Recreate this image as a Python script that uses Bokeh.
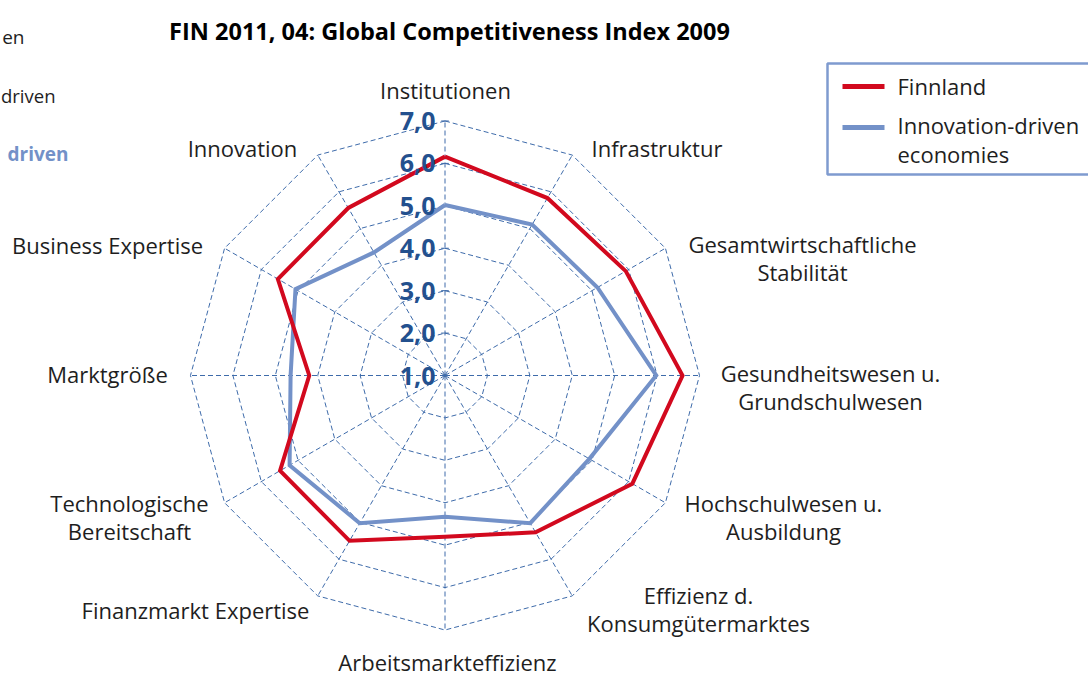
import numpy as np
from bokeh.plotting import figure
from bokeh.models import Range1d
from bokeh.embed import file_html
from bokeh.resources import INLINE
from bokeh.core.properties import value

# ---------------- data ----------------
title_text = "FIN 2011, 04: Global Competitiveness Index 2009"
categories = [
    "Institutionen",
    "Infrastruktur",
    "Gesamtwirtschaftliche\nStabilität",
    "Gesundheitswesen u.\nGrundschulwesen",
    "Hochschulwesen u.\nAusbildung",
    "Effizienz d.\nKonsumgütermarktes",
    "Arbeitsmarkteffizienz",
    "Finanzmarkt Expertise",
    "Technologische\nBereitschaft",
    "Marktgröße",
    "Business Expertise",
    "Innovation",
]
finnland = [6.16, 5.83, 5.92, 6.60, 6.10, 5.27, 4.80, 5.50, 5.49, 4.20, 5.55, 5.56]
innovation_driven = [5.02, 5.11, 5.15, 5.98, 4.93, 5.02, 4.33, 5.02, 5.23, 4.64, 5.07, 4.35]
series_names = ["Finnland", "Innovation-driven\neconomies"]
tick_values = [1.0, 2.0, 3.0, 4.0, 5.0, 6.0, 7.0]
tick_labels = ["1,0", "2,0", "3,0", "4,0", "5,0", "6,0", "7,0"]
cut_fragments = ["en", "driven", "driven"]

# ---------------- layout ----------------
W, H = 1088, 675
K = 42.42            # pixels per value unit
CX, CY = 444.5, 375  # page coords of the radar centre
VMIN = 1.0

def dx(xp):
    return (xp - CX) / K

def dy(yp):
    return (CY - yp) / K

FONT = value("Open Sans")
RED = "#D2091E"
BLUE = "#7391C8"
GRID = "#3E6BAA"
TICK = "#23508E"
TXT = "#1E1E1E"
FS = "22px"

p = figure(width=W, height=H, x_range=Range1d(dx(0), dx(W)),
           y_range=Range1d(dy(H), dy(0)), output_backend="svg",
           toolbar_location=None, min_border=0, outline_line_color=None)
p.axis.visible = False
p.grid.visible = False
p.background_fill_color = "white"
p.border_fill_color = "white"

n = len(categories)
angles = np.arange(n) * 2 * np.pi / n

def polar(vals):
    r = np.asarray(vals, dtype=float) - VMIN
    x = r * np.sin(angles)
    y = r * np.cos(angles)
    return np.append(x, x[0]), np.append(y, y[0])

# rings
for v in tick_values[1:]:
    xs, ys = polar([v] * n)
    p.line(xs, ys, line_color=GRID, line_width=1, line_dash="5 3")
# spokes
rmax = tick_values[-1] - VMIN
p.segment(x0=[0] * n, y0=[0] * n, x1=list(rmax * np.sin(angles)), y1=list(rmax * np.cos(angles)),
          line_color=GRID, line_width=1, line_dash="5 3")
# tick marks on the vertical axis
tv = np.array(tick_values) - VMIN
p.segment(x0=list(-0.09 + 0 * tv), y0=list(tv), x1=list(0.09 + 0 * tv), y1=list(tv),
          line_color=GRID, line_width=1)

# series
xb, yb = polar(innovation_driven)
p.line(xb, yb, line_color=BLUE, line_width=4, line_join="miter")
xr, yr = polar(finnland)
p.line(xr, yr, line_color=RED, line_width=4, line_join="miter")

# tick labels
p.text(x=[dx(435)] * len(tv), y=list(tv), text=tick_labels, text_align="right",
       text_baseline="middle", text_font=FONT, text_font_style="bold",
       text_font_size="25px", text_color=TICK)

# category labels (page anchor x, first line y, align)
label_pos = [
    (445, 89, "center"),
    (591, 147, "left"),
    (802, 243, "center"),
    (830, 372, "center"),
    (783, 502, "center"),
    (698, 594, "center"),
    (447, 661, "center"),
    (195, 609, "center"),
    (129, 502, "center"),
    (107, 373, "center"),
    (107, 244, "center"),
    (242, 147, "center"),
]
LINE = 28.5
for cat, (xp, yp, al) in zip(categories, label_pos):
    for j, line in enumerate(cat.split("\n")):
        p.text(x=[dx(xp)], y=[dy(yp + j * LINE)], text=[line], text_align=al,
               text_baseline="middle", text_font=FONT, text_font_size=FS,
               text_color=TXT)

# title
p.text(x=[dx(449)], y=[dy(30)], text=[title_text], text_align="center",
       text_baseline="middle", text_font=FONT, text_font_style="bold",
       text_font_size="23.5px", text_color="#000000")

# legend box
p.quad(left=[dx(827)], right=[dx(1110)], top=[dy(63)], bottom=[dy(174)],
       fill_color="white", line_color="#7F9BCF", line_width=2.5)
p.segment(x0=[dx(842)], y0=[dy(86)], x1=[dx(884)], y1=[dy(86)], line_color=RED, line_width=5)
p.segment(x0=[dx(842)], y0=[dy(127)], x1=[dx(884)], y1=[dy(127)], line_color=BLUE, line_width=5)
leg_y = [[85], [124, 153]]
for name, ys_ in zip(series_names, leg_y):
    for line, yp in zip(name.split("\n"), ys_):
        p.text(x=[dx(897)], y=[dy(yp)], text=[line], text_align="left",
               text_baseline="middle", text_font=FONT, text_font_size=FS,
               text_color=TXT)

# fragments of a neighbouring legend at the left edge
frag_pos = [(24, 36, "normal", TXT, "19px"), (55, 95, "normal", TXT, "18.5px"),
            (68, 153, "bold", BLUE, "19px")]
for frag, (xp, yp, st, col, fs) in zip(cut_fragments, frag_pos):
    p.text(x=[dx(xp)], y=[dy(yp)], text=[frag], text_align="right",
           text_baseline="middle", text_font=FONT, text_font_style=st,
           text_font_size=fs, text_color=col)

open("out.html", "w").write(file_html(p, INLINE))
